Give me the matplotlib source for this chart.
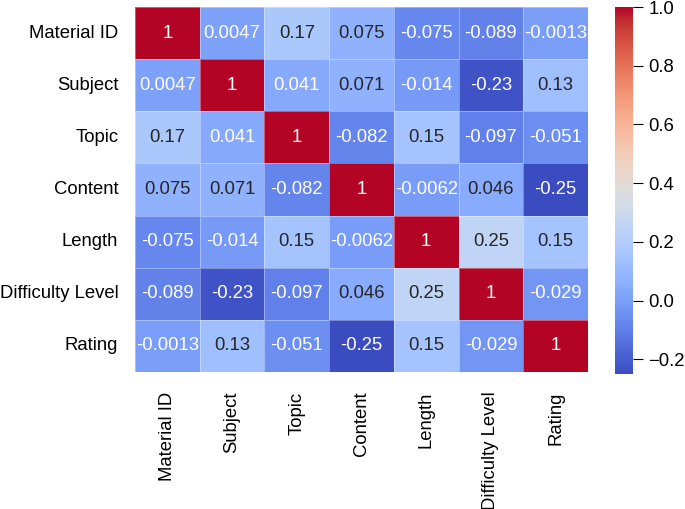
import matplotlib
matplotlib.use("Agg")
import matplotlib.pyplot as plt
import numpy as np
import pandas as pd
import seaborn as sns

# Column names of the correlation matrix
labels = ["Material ID", "Subject", "Topic", "Content", "Length", "Difficulty Level", "Rating"]

# Correlation values, row by row
row_material = [1, 0.0047, 0.17, 0.075, -0.075, -0.089, -0.0013]
row_subject = [0.0047, 1, 0.041, 0.071, -0.014, -0.23, 0.13]
row_topic = [0.17, 0.041, 1, -0.082, 0.15, -0.097, -0.051]
row_content = [0.075, 0.071, -0.082, 1, -0.0062, 0.046, -0.25]
row_length = [-0.075, -0.014, 0.15, -0.0062, 1, 0.25, 0.15]
row_difficulty = [-0.089, -0.23, -0.097, 0.046, 0.25, 1, -0.029]
row_rating = [-0.0013, 0.13, -0.051, -0.25, 0.15, -0.029, 1]

corr = pd.DataFrame(
    [row_material, row_subject, row_topic, row_content, row_length, row_difficulty, row_rating],
    index=labels, columns=labels,
)

plt.rcParams['font.family'] = ['Liberation Sans', 'DejaVu Sans']

fig = plt.figure(figsize=(6.85, 5.09), dpi=100)
ax = fig.add_axes([135 / 685, 1 - 372 / 509, 453 / 685, 365 / 509])
cax = fig.add_axes([615 / 685, 1 - 374 / 509, 18 / 685, 367 / 509])

sns.heatmap(corr, annot=True, cmap="coolwarm", ax=ax, cbar_ax=cax,
            linewidths=0.4, linecolor=(1, 1, 1, 0.35),
            annot_kws={"fontsize": 13.3})

ax.tick_params(axis="both", length=0, labelsize=13.3)
ax.tick_params(axis="y", pad=12)
ax.tick_params(axis="x", pad=14)
plt.setp(ax.get_yticklabels(), rotation=0)
plt.setp(ax.get_xticklabels(), rotation=90)
cax.tick_params(labelsize=13.3, length=7, pad=4)

fig.savefig("out.png", dpi=100)
